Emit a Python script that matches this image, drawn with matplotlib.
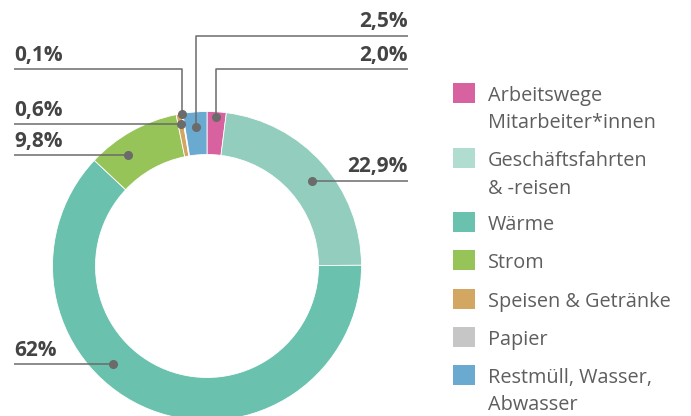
import numpy as np
import matplotlib
matplotlib.use("Agg")
import matplotlib.pyplot as plt
from matplotlib.patches import Rectangle

# --- Daten -----------------------------------------------------------------
categories = ["Arbeitswege\nMitarbeiter*innen", "Geschäftsfahrten\n& -reisen",
              "Wärme", "Strom", "Speisen & Getränke", "Papier",
              "Restmüll, Wasser,\nAbwasser"]
shares = [2.0, 22.9, 62.0, 9.8, 0.6, 0.1, 2.5]
value_labels = ["2,0%", "22,9%", "62%", "9,8%", "0,6%", "0,1%", "2,5%"]

colors = ["#D8619F", "#93CDBD", "#6AC1AE", "#97C459", "#D3A661", "#C6C6C6", "#6BAAD0"]
legend_colors = ["#D8619F", "#B1DDD0", "#6AC1AE", "#97C459", "#D3A661", "#C6C6C6", "#6BAAD0"]

# Layout der Beschriftungen: (Seite, Linienhöhe px oder None, Position im Segment, Radius)
label_layout = [("right", 69, 0.5, 149),
                ("right", None, 0.53, 135),
                ("left", None, 0.6, 136),
                ("left", None, 0.32, 136),
                ("left", None, 0.5, 144),
                ("left", 69, 0.5, 154),
                ("right", 36, 0.5, 139)]

W, H = 691, 416
CX, CY = 207, H - 266          # Mittelpunkt (Datenkoordinaten, y nach oben)
R, RING = 154.5, 43
LINE_C = "#6b6b6b"
TXT_C = "#444444"


def Y(py):
    return H - py


fig = plt.figure(figsize=(W / 100, H / 100), dpi=100)
ax = fig.add_axes([0, 0, 1, 1])

ax.pie(shares, colors=colors, startangle=90, counterclock=False, radius=R,
       center=(CX, CY), frame=True,
       wedgeprops=dict(width=RING, edgecolor="white", linewidth=0.6))

# Beschriftungen mit Führungslinien
total = sum(shares)
start = 0.0
for val, lab, (side, line_py, frac, r) in zip(shares, value_labels, label_layout):
    theta = 360 * (start + frac * val) / total
    ang = np.deg2rad(90 - theta)
    dx, dy = CX + r * np.cos(ang), CY + r * np.sin(ang)
    ly = dy if line_py is None else Y(line_py)
    if side == "right":
        xs, tx, ha = [dx, dx, 408], 408, "right"
    else:
        xs, tx, ha = [dx, dx, 14], 14, "left"
    ax.plot(xs, [dy, ly, ly], color=LINE_C, lw=1.1, solid_capstyle="butt", zorder=4)
    ax.plot([dx], [dy], "o", color=LINE_C, ms=5.5, zorder=5)
    ax.text(tx, ly + 8.5, lab, ha=ha, va="baseline", fontsize=15, fontweight="bold",
            color=TXT_C, family="Open Sans")
    start += val

# Legende (manuell)
leg_centers = [93, 158, 222, 260, 299, 337, 375]
for name, c, yc in zip(categories, legend_colors, leg_centers):
    ax.add_patch(Rectangle((453, Y(yc) - 10), 22, 20, color=c, lw=0))
    for k, line in enumerate(name.split("\n")):
        ax.text(488, Y(yc + 7.5 + 28 * k), line, ha="left", va="baseline",
                fontsize=14.3, color="#5e5e5e", family="Open Sans")

ax.set_xlim(0, W)
ax.set_ylim(0, H)
ax.set_aspect("equal")
ax.axis("off")

fig.savefig("out.png", dpi=100)
